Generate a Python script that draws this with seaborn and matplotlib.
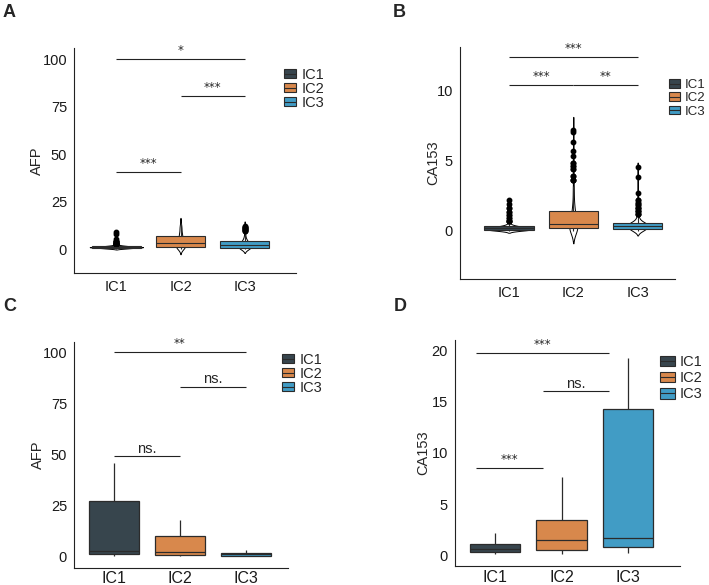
import numpy as np
import pandas as pd
import matplotlib
matplotlib.use("Agg")
import matplotlib.pyplot as plt
import seaborn as sns
from matplotlib.patches import Patch
from matplotlib.lines import Line2D

sns.set_style("white")
plt.rcParams['font.family'] = ['Liberation Sans', 'DejaVu Sans']

groups = ["IC1", "IC2", "IC3"]
colors = ["#37454d", "#d8884c", "#419cc5"]

# ---------- Panel A: AFP (violin + box), values with counts ----------
a_ic1_vals = [0.2, 0.5, 0.8, 1.0, 1.2, 1.5, 1.8, 2.2, 2.8, 3.5, 4.2, 5.3, 7.7, 8.8]
a_ic1_cnts = [40, 70, 90, 100, 90, 60, 40, 20, 8, 4, 2, 1, 1, 1]
a_ic2_vals = [0.2, 0.8, 1.2, 2.0, 3.0, 4.0, 5.5, 7.0, 7.7, 9.5, 11.0, 12.0, 13.5]
a_ic2_cnts = [6, 10, 12, 12, 12, 8, 7, 6, 6, 4, 4, 3, 2]
a_ic3_vals = [0.2, 0.7, 1.2, 2.1, 3.0, 4.0, 5.0, 6.5, 8.0, 9.5, 10.2, 10.8, 11.3, 11.8, 12.3]
a_ic3_cnts = [15, 20, 20, 20, 15, 15, 8, 5, 3, 2, 2, 2, 2, 2, 1]

# ---------- Panel B: CA153 (violin + box) ----------
b_ic1_vals = [0.0, 0.05, 0.1, 0.15, 0.2, 0.3, 0.45, 0.7, 0.88, 1.1, 1.35, 1.59, 1.9, 2.17]
b_ic1_cnts = [30, 60, 70, 50, 50, 60, 15, 4, 2, 2, 2, 2, 1, 1]
b_ic2_vals = [0.0, 0.17, 0.3, 0.45, 0.7, 1.0, 1.42, 1.9, 2.4, 2.9, 3.2, 3.6, 3.9,
              4.4, 4.6, 4.8, 5.3, 5.7, 6.3, 7.0, 7.2]
b_ic2_cnts = [30, 40, 25, 25, 20, 20, 25, 10, 8, 6, 5, 3, 2, 2, 2, 2, 1, 1, 1, 1, 1]
b_ic3_vals = [0.0, 0.12, 0.25, 0.35, 0.45, 0.52, 0.7, 0.9, 1.05, 1.2, 1.4, 1.6,
              1.8, 2.0, 2.2, 2.7, 3.8, 4.5]
b_ic3_cnts = [25, 45, 30, 40, 30, 40, 15, 8, 5, 3, 3, 3, 2, 2, 2, 1, 1, 1]

# ---------- Panel C: AFP (box) ----------
c_ic1 = [0.0, 1.0, 2.5, 27.0, 45.5]
c_ic2 = [0.0, 0.5, 2.3, 10.1, 17.9]
c_ic3 = [0.0, 0.4, 1.0, 1.7, 2.9]

# ---------- Panel D: CA153 (box) ----------
d_ic1 = [0.14, 0.36, 0.62, 1.14, 2.24]
d_ic2 = [0.14, 0.52, 1.5, 3.47, 7.7]
d_ic3 = [0.3, 0.85, 1.75, 14.24, 19.2]

# significance comparisons: (group a, group b, height, label)
sig_a = [(0, 2, 100, "*"), (1, 2, 80.5, "***"), (0, 1, 40.5, "***")]
sig_b = [(0, 2, 12.37, "***"), (0, 1, 10.35, "***"), (1, 2, 10.35, "**")]
sig_c = [(0, 2, 100, "**"), (1, 2, 83, "ns."), (0, 1, 49, "ns.")]
sig_d = [(0, 2, 19.75, "***"), (1, 2, 16.0, "ns."), (0, 1, 8.5, "***")]


def long_counts(vals_list, cnts_list):
    rows = []
    for g, v, c in zip(groups, vals_list, cnts_list):
        rows.append(pd.DataFrame({"grp": g, "val": np.repeat(v, c)}))
    return pd.concat(rows, ignore_index=True)


def long_plain(vals_list):
    rows = []
    for g, v in zip(groups, vals_list):
        rows.append(pd.DataFrame({"grp": g, "val": v}))
    return pd.concat(rows, ignore_index=True)


dfA = long_counts([a_ic1_vals, a_ic2_vals, a_ic3_vals], [a_ic1_cnts, a_ic2_cnts, a_ic3_cnts])
dfB = long_counts([b_ic1_vals, b_ic2_vals, b_ic3_vals], [b_ic1_cnts, b_ic2_cnts, b_ic3_cnts])
dfC = long_plain([c_ic1, c_ic2, c_ic3])
dfD = long_plain([d_ic1, d_ic2, d_ic3])

W, H = 709, 585
fig = plt.figure(figsize=(W / 100, H / 100), dpi=100)


def px_axes(l, r, t, b):
    return fig.add_axes([l / W, 1 - b / H, (r - l) / W, (b - t) / H])


axA = px_axes(74, 296, 48, 273)
axB = px_axes(460, 675, 47, 279)
axC = px_axes(74, 288, 342, 568)
axD = px_axes(455, 680, 340, 566)

edge = "#2b2b2b"
pal = dict(zip(groups, colors))


def violin_box(ax, df, vwidth):
    sns.violinplot(data=df, x="grp", y="val", order=groups, color="white",
                   inner=None, linecolor="black", linewidth=0.7,
                   density_norm="area", width=vwidth, cut=2, ax=ax)
    sns.boxplot(data=df, x="grp", y="val", order=groups, hue="grp",
                hue_order=groups, palette=pal, width=0.77, linecolor=edge,
                linewidth=0.8, legend=False, saturation=1, showcaps=False,
                flierprops=dict(marker="o", markerfacecolor="black",
                                markeredgecolor="black", markersize=3.2),
                ax=ax)


def plain_box(ax, df):
    sns.boxplot(data=df, x="grp", y="val", order=groups, hue="grp",
                hue_order=groups, palette=pal, width=0.76, linecolor=edge,
                linewidth=0.9, legend=False, saturation=1, showcaps=False, ax=ax)


violin_box(axA, dfA, 0.83)
violin_box(axB, dfB, 0.73)
plain_box(axC, dfC)
plain_box(axD, dfD)

settings = [
    # ax, ylabel, ylim, xlim, yticks, sigs, bar x offset, x tick size, x pad, ylabel pad
    (axA, "AFP", (-12.6, 105.8), (-0.66, 2.80), [0, 25, 50, 75, 100], sig_a, 0.0, 10.5, 5, -1),
    (axB, "CA153", (-3.45, 13.08), (-0.76, 2.58), [0, 5, 10], sig_b, 0.0, 10.5, 5, -2.5),
    (axC, "AFP", (-5.7, 104.9), (-0.61, 2.64), [0, 25, 50, 75, 100], sig_c, 0.0, 11.5, 2, -1.5),
    (axD, "CA153", (-1.0, 21.0), (-0.60, 2.78), [0, 5, 10, 15, 20], sig_d, -0.28, 11.5, 3, 1),
]

for ax, ylab, ylim, xlim, yt, sigs, xoff, xfs, xpad, ylp in settings:
    ax.set_ylim(*ylim)
    ax.set_xlim(*xlim)
    ax.set_yticks(yt)
    ax.set_xlabel("")
    ax.set_ylabel(ylab, fontsize=10.5, labelpad=ylp)
    for s in ["top", "right"]:
        ax.spines[s].set_visible(False)
    for s in ["left", "bottom"]:
        ax.spines[s].set_color("#222222")
        ax.spines[s].set_linewidth(0.8)
    ax.tick_params(axis="y", length=3, width=0.8, color="#222222", labelsize=10.5,
                   pad=2, labelcolor="#1a1a1a")
    ax.tick_params(axis="x", length=0, labelsize=xfs, pad=xpad, labelcolor="#1a1a1a")
    for (g1, g2, yv, lab) in sigs:
        ax.plot([g1 + xoff, g2 + xoff], [yv, yv], color="#222222", lw=0.8,
                solid_capstyle="butt")
        if lab.startswith("*"):
            ax.annotate(lab, ((g1 + g2) / 2 + xoff, yv), xytext=(0, 1.5),
                        textcoords="offset points", ha="center", va="bottom",
                        fontsize=8.5, family="DejaVu Sans")
        else:
            ax.annotate(lab, ((g1 + g2) / 2 + xoff, yv), xytext=(0, 0.5),
                        textcoords="offset points", ha="center", va="bottom",
                        fontsize=10.5)

handles = [(Patch(facecolor=c, edgecolor=edge, linewidth=0.8),
            Line2D([], [], color=edge, lw=0.8)) for c in colors]

# ax, left px, top px, font size, label spacing, handle height
legend_pos = [(axA, 284, 68, 10.5, 0.0, 0.6), (axB, 669, 79, 9.5, 0.1, 0.6),
              (axC, 282, 353, 10.5, 0.0, 0.6), (axD, 660, 355, 10.5, 0.15, 0.75)]
for ax, lx, ly, fs, ls, hh in legend_pos:
    ax.legend(handles, groups, loc="upper left", bbox_to_anchor=(lx / W, 1 - ly / H),
              bbox_transform=fig.transFigure, frameon=False, fontsize=fs,
              handlelength=0.85 if hh < 0.7 else 1.0, handleheight=hh,
              handletextpad=0.35, labelspacing=ls, borderpad=0, borderaxespad=0)

for lab, x, y in [("A", 3, 4), ("B", 393, 4), ("C", 3, 298), ("D", 394, 298)]:
    fig.text(x / W, 1 - y / H, lab, fontsize=13, fontweight="bold",
             ha="left", va="top")

fig.savefig("out.png", dpi=100, facecolor="white")
